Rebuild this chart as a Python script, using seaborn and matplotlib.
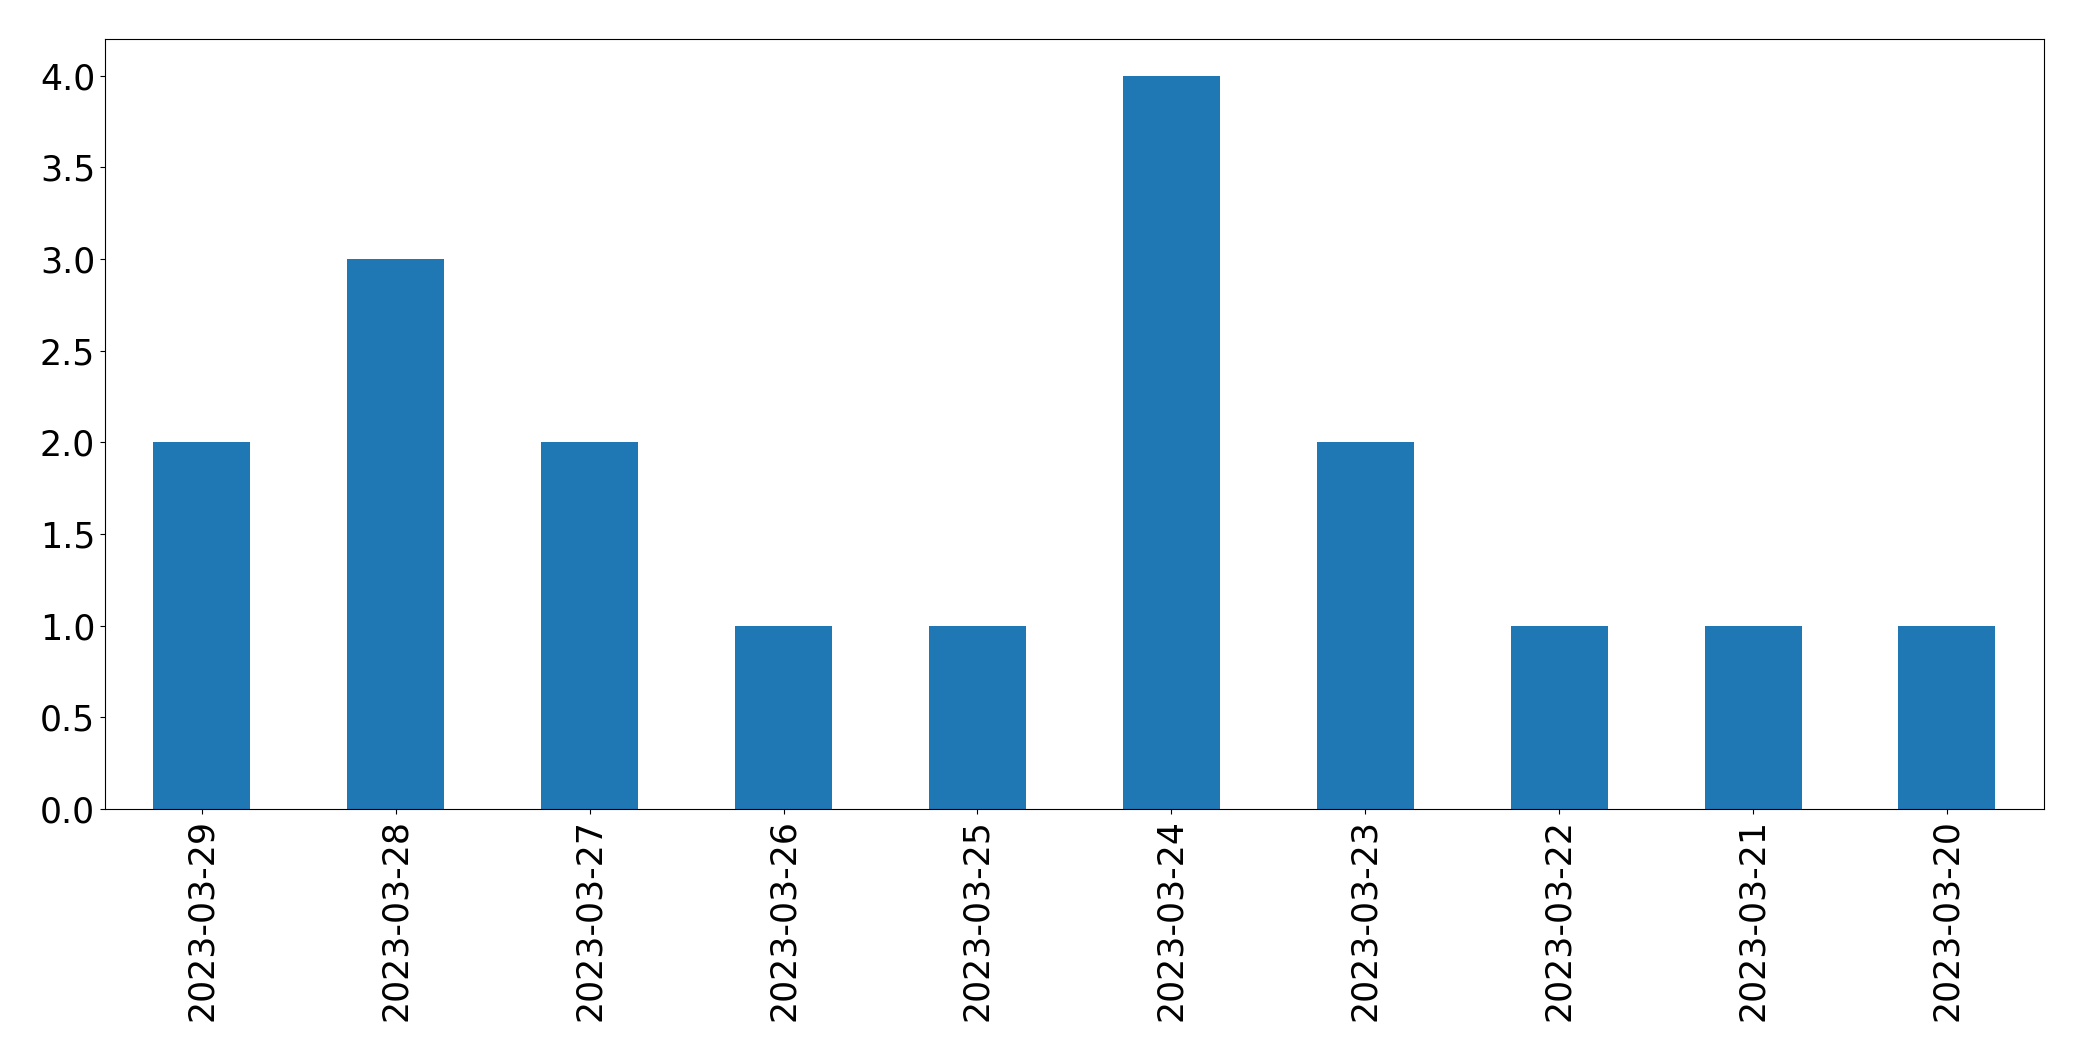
import seaborn as sns
import pandas as pd
import matplotlib
matplotlib.use('Agg')
import matplotlib.pyplot as plt

# Counts per day, newest first
dates = ['2023-03-29', '2023-03-28', '2023-03-27', '2023-03-26', '2023-03-25',
         '2023-03-24', '2023-03-23', '2023-03-22', '2023-03-21', '2023-03-20']
counts = [2, 3, 2, 1, 1, 4, 2, 1, 1, 1]

df = pd.DataFrame({'date': dates, 'count': counts})

fig, ax = plt.subplots(figsize=(20.82, 10.61), dpi=100)
fig.subplots_adjust(left=0.0504, right=0.9817, top=0.9632, bottom=0.2375)

sns.barplot(x='date', y='count', data=df, order=dates, color='#1f77b4',
            saturation=1, width=0.5, linewidth=0, ax=ax)

ax.set_xlabel('')
ax.set_ylabel('')
ax.set_yticks([0, 0.5, 1.0, 1.5, 2.0, 2.5, 3.0, 3.5, 4.0])
ax.set_ylim(0, 4.2)
ax.tick_params(axis='x', labelsize=25, labelrotation=90)
ax.tick_params(axis='y', labelsize=25)

fig.savefig('out.png', dpi=100)
